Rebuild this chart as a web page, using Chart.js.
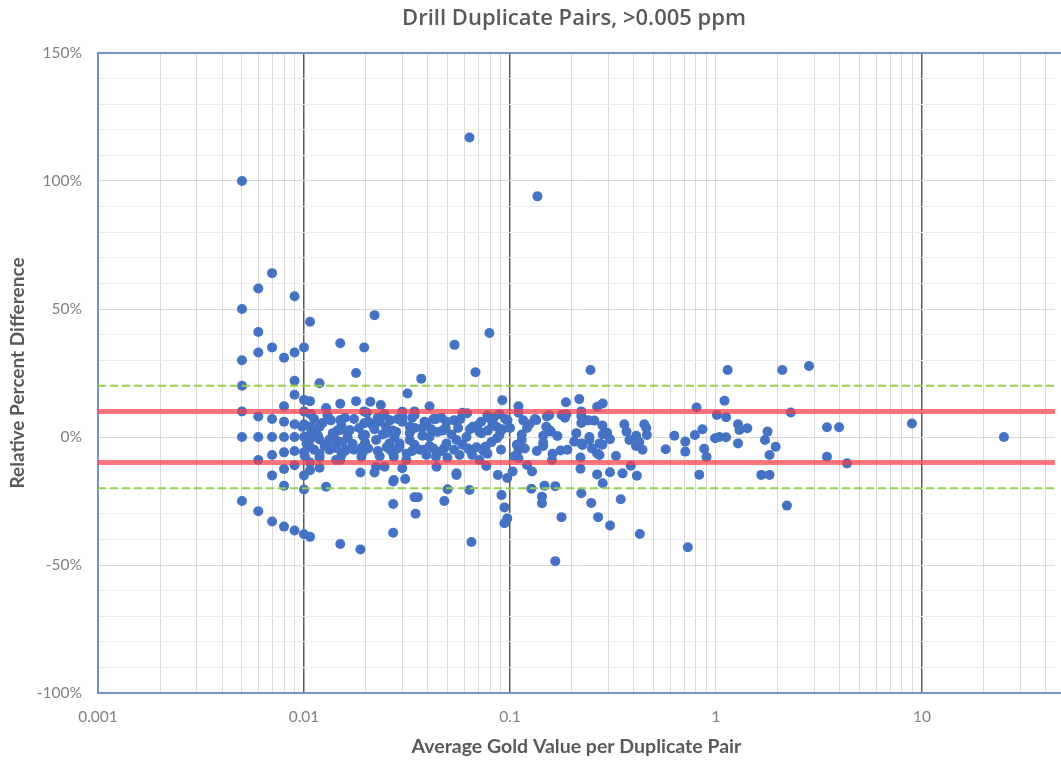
<!DOCTYPE html>
<html>
<head>
<meta charset="utf-8">
<script src="https://cdn.jsdelivr.net/npm/chart.js@4.4.1/dist/chart.umd.min.js"></script>
<style>
  html, body { margin: 0; padding: 0; background: #fff; }
</style>
</head>
<body>
<canvas id="dup" width="1061" height="763"></canvas>
<script>
var chartTitle = "Drill Duplicate Pairs, >0.005 ppm";
var xTitle = "Average Gold Value per Duplicate Pair";
var yTitle = "Relative Percent Difference";

// x axis (log), tick labels only on the decades
var xTickLabels = ["0.001", "0.01", "0.1", "1", "10"];
var xMin = 0.001;
var xMax = 44.2; // picture is cut off on the right
var darkGridAt = [0.01, 0.1, 10];

var yMin = -100;
var yMax = 150;

// control limits (%)
var redLimits = [10, -10];
var greenLimits = [20, -20];

// average Au (ppm) of each pair, and the relative % difference
var avgGold = [
  0.005, 0.005, 0.005, 0.005, 0.005, 0.005, 0.005,
  0.006, 0.006, 0.006, 0.006, 0.006, 0.006, 0.006,
  0.007, 0.007, 0.007, 0.007, 0.007, 0.007, 0.007,
  0.008, 0.008, 0.008, 0.008, 0.008, 0.008, 0.008, 0.008,
  0.009, 0.009, 0.009, 0.009, 0.009, 0.009, 0.009, 0.009, 0.009,
  0.01, 0.01, 0.01, 0.01, 0.01, 0.01, 0.01, 0.01, 0.01,
  0.0107, 0.0107, 0.0107, 0.0107, 0.0107, 0.0107, 0.0107, 0.0107, 0.0107,
  0.0119, 0.0119, 0.0119, 0.0119, 0.0119, 0.0128, 0.0128, 0.0128, 0.0133, 0.0133,
  0.0143, 0.0143, 0.0143, 0.015, 0.015, 0.015, 0.015, 0.015, 0.015, 0.016,
  0.0163, 0.0167, 0.0172, 0.0179, 0.0179, 0.0188, 0.0188, 0.019, 0.019, 0.0196,
  0.0196, 0.0196, 0.0198, 0.0198, 0.021, 0.022, 0.022, 0.0224, 0.0224, 0.0236,
  0.0239, 0.0246, 0.025, 0.025, 0.026, 0.0271, 0.0271, 0.0271, 0.0271, 0.0273,
  0.0273, 0.028, 0.0291, 0.03, 0.03, 0.03, 0.031, 0.0314, 0.0318, 0.0326,
  0.0344, 0.0344, 0.0348, 0.0357, 0.0371, 0.0375, 0.038, 0.0407, 0.0407, 0.0437,
  0.0437, 0.044, 0.048, 0.048, 0.0487, 0.0498, 0.0538, 0.055, 0.055, 0.055,
  0.0569, 0.062, 0.0636, 0.0636, 0.0636, 0.065, 0.066, 0.068, 0.0711, 0.0711,
  0.076, 0.0768, 0.0795, 0.0795, 0.086, 0.0873, 0.089, 0.091, 0.0918, 0.094,
  0.094, 0.097, 0.097, 0.103, 0.11, 0.11, 0.11, 0.114, 0.121, 0.121,
  0.127, 0.128, 0.134, 0.136, 0.143, 0.143, 0.145, 0.147, 0.151, 0.155,
  0.158, 0.16, 0.166, 0.166, 0.17, 0.176, 0.178, 0.178, 0.187, 0.205,
  0.217, 0.22, 0.22, 0.222, 0.222, 0.225, 0.243, 0.246, 0.248, 0.257,
  0.265, 0.265, 0.265, 0.268, 0.272, 0.282, 0.282, 0.296, 0.306, 0.306,
  0.306, 0.327, 0.345, 0.352, 0.368, 0.38, 0.386, 0.409, 0.413, 0.427,
  0.44, 0.449, 0.462, 0.57, 0.628, 0.71, 0.71, 0.73, 0.79, 0.805,
  0.83, 0.86, 0.877, 0.9, 0.99, 1.01, 1.04, 1.1, 1.12, 1.12,
  1.14, 1.28, 1.28, 1.3, 1.42, 1.66, 1.73, 1.78, 1.82, 1.82,
  1.95, 2.1, 2.21, 2.31, 2.83, 3.46, 3.46, 3.96, 4.33, 8.94, 25,
  // dense band around zero
  0.0108, 0.013, 0.0202, 0.0246, 0.03, 0.0344, 0.0588, 0.0777, 0.0889, 0.11, 0.155, 0.188, 0.222,
  0.0098, 0.0123, 0.0152, 0.0213, 0.0233, 0.0326, 0.0393, 0.0492, 0.0696, 0.0822, 0.0973, 0.1243, 0.15, 0.222, 0.281, 0.359, 0.459,
  0.0107, 0.0117, 0.0138, 0.0163, 0.0193, 0.0241, 0.0275, 0.0326, 0.0376, 0.0445, 0.052, 0.0615, 0.0727, 0.0864, 0.114, 0.145, 0.21, 0.243, 0.282, 0.41,
  0.0103, 0.0126, 0.0154, 0.0197, 0.0252, 0.0291, 0.0344, 0.0407, 0.0492, 0.0588, 0.0688, 0.0813, 0.108, 0.145, 0.222, 0.281, 0.4245,
  0.0101, 0.0119, 0.0152, 0.0193, 0.0233, 0.0315, 0.0393, 0.0497, 0.0655, 0.0777, 0.105, 0.161, 0.272,
  0.0112, 0.0135, 0.0158, 0.0175, 0.0205, 0.0228, 0.0262, 0.0285, 0.0335, 0.0385, 0.0425, 0.0465, 0.0535, 0.0575, 0.0725, 0.0835, 0.095, 0.116, 0.132, 0.185, 0.24,
  0.0112, 0.0135, 0.0158, 0.0175, 0.0205, 0.0228, 0.0262, 0.0285, 0.0335, 0.0365, 0.0425, 0.0465, 0.0535, 0.0625, 0.0745, 0.0905, 0.118, 0.135, 0.19, 0.25,
  0.0115, 0.0145, 0.0185, 0.022, 0.027, 0.0345, 0.0415, 0.047, 0.056, 0.064, 0.078, 0.092, 0.1
];
var relDiff = [
  100, 50, 30, 20, 10, 0, -25,
  58, 41, 33, 8, 0, -9, -29,
  64, 35, 7, 0, -7, -15, -33,
  31, 12, 6, 0, -6, -12.5, -19, -35,
  55, 33, 22, 16.5, 5, 0, -5.5, -11, -36.5,
  35, 14.5, 10, 5, 0, -6, -15, -20.5, -38,
  45, 14, 9, 4, -1, -4, -10, -13, -39,
  21, 4, -1, -8, -12, 11.3, -3, -19.4, -1, -5,
  -1.2, -4.3, -9, 36.6, 13, 6.6, 2.7, -9, -41.8, -5,
  0, 2.7, -2.6, 25, 14, -13.9, -43.9, -4.3, -7.7, 35,
  10, 5.4, 0.8, -2.3, 13.8, 47.6, -13.9, -1.2, -11.6, 12.5,
  8, -11.6, 4, 1.5, -2.5, -6.4, -17.4, -26.2, -37.4, -16.8,
  -7.7, 2, -3.8, 9.9, 6, -12.2, -16.4, -9, 17, -1.2,
  8.6, -23.5, -30, -23.5, 22.8, 3.5, -5, 0, 12, 7,
  -7.7, -11.6, -25, -4.3, 3.5, -20.4, 36, -1.2, -14.8, -14.2,
  -7, 9.3, 117, -5, -20.7, -41, 4, 25.3, 2, -9,
  -3.8, -11.3, 40.6, 7.4, 4, -14.8, 0.8, -22.7, 14.4, -27.5,
  -33.7, -16, -31.8, -13.5, 12, -5, -8.3, -1.2, 3.5, -10.9,
  -20.2, -13.5, 6.6, 94, -23.3, -25.9, -2.3, -19, 8, 2.7,
  2.1, -9, -19.2, -48.5, 0.4, -5.3, 8.6, -31.3, 13.6, -1.8,
  14.8, -12.4, -8, 8.2, -22, -3.1, -1.2, 26.2, -25.8, 6.4,
  11.8, -6.4, -14.6, -31.3, -2.5, 13.1, -18.1, 1.7, -0.9, -34.6,
  -13.8, -7.4, -24.3, -14.2, 2.1, -1.2, -11.2, -3.5, -15.1, -37.9,
  -5, 5, 0.8, -4.8, 0.5, -1.8, -5.7, -43.1, 0.8, 11.5,
  -14.7, 3, -4.6, -7.8, -0.5, 8.6, 0, 14.2, 7.7, -0.1,
  26.2, 5, -2.5, 2.7, 3.4, -14.8, -1.2, 2.1, -14.8, -7,
  -3.8, 26.2, -26.8, 9.6, 27.7, 3.8, -7.7, 3.8, -10.3, 5.3, 0,
  // dense band around zero
  9, 8.5, 9.5, 9, 8, 10, 9.5, 8.5, 9, 9.5, 8.5, 9, 10,
  4, 5.5, 4.5, 5, 6, 4, 5.5, 6, 4.5, 5, 6.5, 5, 4, 5.5, 4.5, 5, 3.5,
  1, 0.5, 1.5, 2, 0.5, 1, 0, 1.5, 0.5, 2, 1, 0, 1.5, -0.5, 1, 0.5, 1.5, 0, 1, 0.5,
  -2.5, -3.5, -2, -3, -4, -2.5, -3, -3.5, -2.5, -3, -4, -2, -3, -3.5, -2.5, -3, -2,
  -7.5, -6.5, -7, -6, -7.5, -6.5, -7, -8, -7, -6.5, -7.5, -6.5, -7,
  7, 6.5, 7.5, 7, 6, 7.5, 6.5, 7, 7.5, 6, 7, 7.5, 6.5, 7, 6, 7.5, 7, 6.5, 7, 7.5, 6.5,
  -5, -4.5, -5.5, -5, -4.5, -5.5, -5, -4.5, -5.5, -5, -4.5, -5.5, -5, -4.5, -5.5, -5, -4.5, -5.5, -5, -4.5,
  3, 2.5, 3.5, 3, 2.5, 3.5, 3, 2.5, 3.5, 3, 2.5, 3, 3.5
];

if (avgGold.length !== relDiff.length) {
  console.error("length mismatch", avgGold.length, relDiff.length);
}

var points = avgGold.map(function (x, i) {
  return { x: x, y: relDiff[i] };
});

function hLine(level) {
  return [{ x: xMin, y: level }, { x: xMax, y: level }];
}

function isDark(v) {
  return darkGridAt.some(function (d) { return Math.abs(v / d - 1) < 1e-6; });
}

Chart.defaults.font.family = "Lato, 'Open Sans', sans-serif";

var frame = {
  id: "frame",
  beforeDatasetsDraw: function (chart) {
    var a = chart.chartArea;
    var c = chart.ctx;
    c.save();
    c.strokeStyle = "#7393d0";
    c.lineWidth = 2;
    c.beginPath();
    c.moveTo(a.right + 10, a.top);
    c.lineTo(a.left, a.top);
    c.lineTo(a.left, a.bottom);
    c.lineTo(a.right + 10, a.bottom);
    c.stroke();
    c.restore();
  },
  afterDraw: function (chart) {
    // title sits over the full (uncropped) chart, so not over the canvas centre
    var c = chart.ctx;
    c.save();
    c.font = "600 20px 'Open Sans'";
    var size = Math.min(22, 20 * 392 / c.measureText(chartTitle).width);
    c.font = "600 " + size.toFixed(1) + "px 'Open Sans'";
    c.fillStyle = "#595959";
    c.textAlign = "center";
    c.textBaseline = "alphabetic";
    c.fillText(chartTitle, 574, 25);
    c.restore();
  }
};

var ctx = document.getElementById("dup").getContext("2d");
var dupChart = new Chart(ctx, {
  type: "scatter",
  data: {
    datasets: [
      {
        data: hLine(redLimits[0]), showLine: true, pointRadius: 0,
        borderColor: "rgba(255, 60, 70, 0.7)", borderWidth: 5, order: 0
      },
      {
        data: hLine(redLimits[1]), showLine: true, pointRadius: 0,
        borderColor: "rgba(255, 60, 70, 0.7)", borderWidth: 5, order: 0
      },
      {
        data: hLine(greenLimits[0]), showLine: true, pointRadius: 0,
        borderColor: "#92d050", borderWidth: 2, borderDash: [8, 4], order: 0
      },
      {
        data: hLine(greenLimits[1]), showLine: true, pointRadius: 0,
        borderColor: "#92d050", borderWidth: 2, borderDash: [8, 4], order: 0
      },
      {
        data: points,
        backgroundColor: "#4472c4",
        borderWidth: 0,
        pointRadius: 5,
        order: 1
      }
    ]
  },
  options: {
    responsive: false,
    animation: false,
    layout: { padding: { top: 53, right: 0, left: 0, bottom: 0 } },
    plugins: {
      legend: { display: false },
      tooltip: { enabled: false }
    },
    scales: {
      x: {
        type: "logarithmic",
        min: xMin,
        max: xMax,
        afterBuildTicks: function (scale) {
          var ticks = [];
          for (var e = -3; e <= 1; e++) {
            for (var m = 1; m <= 9; m++) {
              var v = m * Math.pow(10, e);
              if (v <= xMax) ticks.push({ value: v });
            }
          }
          scale.ticks = ticks;
        },
        afterFit: function (scale) { scale.height = 70; },
        border: { display: false },
        grid: {
          drawTicks: false,
          color: function (c) { return isDark(c.tick.value) ? "#5a5a5a" : "#d9d9d9"; },
          lineWidth: function (c) { return isDark(c.tick.value) ? 1.5 : 1; }
        },
        ticks: {
          autoSkip: false,
          maxRotation: 0,
          padding: 15,
          color: "#808080",
          font: { size: 15.5 },
          callback: function (value) {
            var p = Math.log10(value);
            var r = Math.round(p);
            return Math.abs(p - r) < 1e-6 ? xTickLabels[r + 3] : "";
          }
        },
        title: {
          display: true,
          text: xTitle,
          color: "#595959",
          font: { size: 19.5, weight: "bold" },
          padding: { top: 0, bottom: 5 }
        }
      },
      y: {
        min: yMin,
        max: yMax,
        afterFit: function (scale) { scale.width = 98; },
        border: { display: false },
        grid: {
          drawTicks: false,
          color: function (c) { return c.tick.value % 50 === 0 ? "#d9d9d9" : "#ececec"; }
        },
        ticks: {
          stepSize: 10,
          autoSkip: false,
          padding: 16,
          color: "#808080",
          font: { size: 15.5 },
          callback: function (value) { return value % 50 === 0 ? value + "%" : ""; }
        },
        title: {
          display: true,
          text: yTitle,
          color: "#595959",
          font: { size: 19, weight: "bold" },
          padding: { top: 6, bottom: 0 }
        }
      }
    }
  },
  plugins: [frame]
});
</script>
</body>
</html>
